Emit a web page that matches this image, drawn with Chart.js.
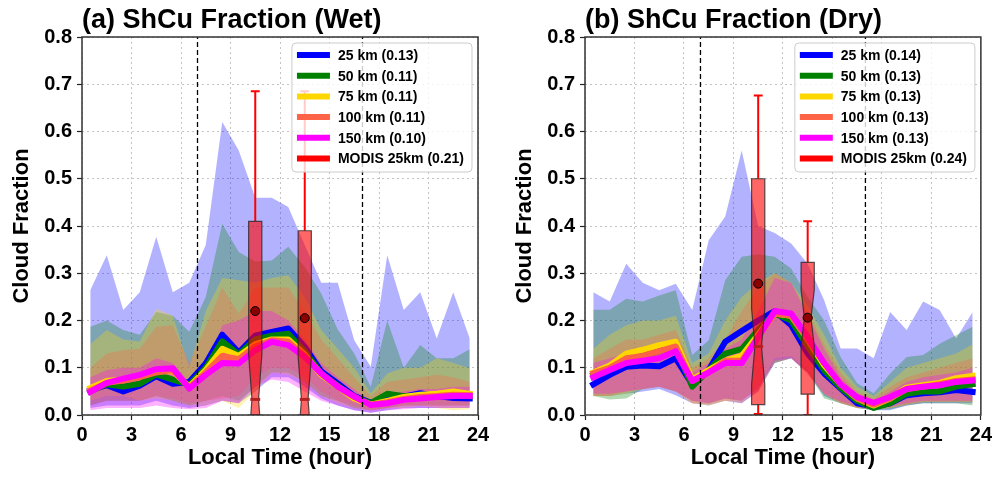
<!DOCTYPE html>
<html>
<head>
<meta charset="utf-8">
<script src="https://cdn.jsdelivr.net/npm/chart.js@4.4.1/dist/chart.umd.min.js"></script>
<style>
body { margin: 0; background: #fff; width: 995px; height: 477px; overflow: hidden; position: relative; }
#wrapWet { position: absolute; left: 0; top: 0; width: 495px; height: 477px; }
#wrapDry { position: absolute; left: 503px; top: 0; width: 492px; height: 477px; }
</style>
</head>
<body>
<div id="wrapWet"><canvas id="wetChart" width="495" height="477"></canvas></div>
<div id="wrapDry"><canvas id="dryChart" width="492" height="477"></canvas></div>
<script>
// local time of each hourly value
const hours = [0.5, 1.5, 2.5, 3.5, 4.5, 5.5, 6.5, 7.5, 8.5, 9.5, 10.5, 11.5,
               12.5, 13.5, 14.5, 15.5, 16.5, 17.5, 18.5, 19.5, 20.5, 21.5, 22.5, 23.5];
const resLabels = ['25 km', '50 km', '75 km', '100 km', '150 km'];
const lineColors = ['blue', 'green', 'gold', 'tomato', 'magenta'];
const bandColors = ['rgba(0,0,255,0.3)', 'rgba(0,128,0,0.3)', 'rgba(255,215,0,0.3)',
                    'rgba(255,99,71,0.3)', 'rgba(255,0,255,0.3)'];
const xTicks = [0, 3, 6, 9, 12, 15, 18, 21, 24];
const vLines = [7, 17];

// (a) wet season
const wetScores = ['0.13', '0.11', '0.11', '0.11', '0.10'];
const wetModisScore = '0.21';
const wetMean25  = [0.053,0.063,0.050,0.062,0.082,0.066,0.070,0.109,0.170,0.132,0.168,0.176,0.183,0.144,0.092,0.067,0.040,0.026,0.035,0.039,0.046,0.040,0.036,0.035];
const wetMean50  = [0.050,0.065,0.060,0.066,0.086,0.075,0.064,0.100,0.156,0.128,0.160,0.168,0.172,0.135,0.088,0.062,0.037,0.025,0.045,0.040,0.040,0.042,0.045,0.040];
const wetMean75  = [0.057,0.072,0.075,0.082,0.092,0.093,0.060,0.095,0.140,0.125,0.150,0.160,0.160,0.128,0.085,0.060,0.035,0.022,0.030,0.038,0.043,0.045,0.050,0.045];
const wetMean100 = [0.052,0.068,0.073,0.080,0.090,0.095,0.058,0.090,0.125,0.118,0.145,0.158,0.155,0.125,0.087,0.060,0.038,0.022,0.027,0.034,0.038,0.040,0.043,0.042];
const wetMean150 = [0.049,0.068,0.077,0.085,0.097,0.099,0.056,0.085,0.110,0.109,0.137,0.155,0.148,0.123,0.088,0.060,0.039,0.021,0.025,0.032,0.035,0.038,0.040,0.040];
const wetHi25  = [0.264,0.338,0.222,0.260,0.377,0.260,0.280,0.360,0.620,0.560,0.460,0.460,0.440,0.360,0.280,0.280,0.158,0.102,0.338,0.222,0.260,0.162,0.260,0.162];
const wetHi50  = [0.187,0.200,0.180,0.170,0.218,0.210,0.176,0.250,0.405,0.345,0.325,0.327,0.356,0.313,0.257,0.181,0.130,0.060,0.200,0.100,0.148,0.120,0.120,0.139];
const wetHi75  = [0.150,0.180,0.160,0.155,0.225,0.210,0.100,0.220,0.290,0.285,0.280,0.290,0.296,0.250,0.180,0.140,0.100,0.046,0.088,0.100,0.100,0.120,0.110,0.099];
const wetHi100 = [0.100,0.130,0.137,0.140,0.187,0.190,0.110,0.187,0.270,0.215,0.270,0.270,0.270,0.220,0.160,0.120,0.080,0.040,0.070,0.075,0.080,0.085,0.080,0.070];
const wetHi150 = [0.080,0.095,0.100,0.100,0.120,0.110,0.070,0.100,0.190,0.200,0.220,0.220,0.200,0.160,0.110,0.080,0.055,0.030,0.045,0.050,0.055,0.055,0.060,0.060];
const wetLo25  = [0.015,0.020,0.020,0.020,0.030,0.020,0.015,0.020,0.030,0.025,0.050,0.080,0.080,0.060,0.035,0.020,0.010,0.005,0.010,0.015,0.015,0.015,0.015,0.015];
const wetLo50  = [0.020,0.030,0.030,0.030,0.040,0.030,0.020,0.030,0.040,0.030,0.060,0.090,0.090,0.070,0.040,0.030,0.015,0.010,0.015,0.020,0.020,0.020,0.020,0.020];
const wetLo75  = [0.030,0.040,0.040,0.030,0.035,0.030,0.020,0.020,0.030,0.015,0.050,0.090,0.085,0.070,0.040,0.025,0.015,0.010,0.015,0.015,0.020,0.015,0.010,0.012];
const wetLo100 = [0.020,0.030,0.030,0.030,0.040,0.035,0.025,0.030,0.035,0.040,0.080,0.100,0.100,0.080,0.050,0.030,0.020,0.010,0.015,0.020,0.020,0.020,0.020,0.020];
const wetLo150 = [0.010,0.015,0.015,0.015,0.020,0.015,0.012,0.015,0.030,0.025,0.060,0.075,0.070,0.050,0.030,0.020,0.010,0.005,0.010,0.012,0.015,0.015,0.015,0.015];

// (b) dry season
const dryScores = ['0.14', '0.13', '0.13', '0.13', '0.13'];
const dryModisScore = '0.24';
const dryMean25  = [0.065,0.085,0.102,0.105,0.103,0.120,0.065,0.095,0.155,0.178,0.200,0.220,0.190,0.130,0.088,0.056,0.025,0.018,0.025,0.042,0.046,0.048,0.053,0.049];
const dryMean50  = [0.085,0.100,0.120,0.125,0.135,0.145,0.060,0.095,0.130,0.140,0.180,0.215,0.200,0.145,0.095,0.058,0.030,0.015,0.025,0.045,0.050,0.050,0.060,0.065];
const dryMean75  = [0.090,0.105,0.130,0.138,0.148,0.155,0.075,0.095,0.115,0.125,0.170,0.215,0.210,0.160,0.105,0.065,0.035,0.020,0.035,0.058,0.063,0.068,0.078,0.083];
const dryMean100 = [0.088,0.100,0.120,0.125,0.135,0.145,0.072,0.090,0.115,0.115,0.165,0.215,0.210,0.160,0.110,0.065,0.035,0.022,0.035,0.055,0.060,0.065,0.072,0.075];
const dryMean150 = [0.080,0.095,0.110,0.115,0.120,0.135,0.072,0.090,0.110,0.110,0.165,0.220,0.215,0.165,0.110,0.065,0.038,0.026,0.038,0.055,0.060,0.063,0.070,0.073];
const dryHi25  = [0.260,0.240,0.320,0.280,0.264,0.278,0.222,0.370,0.420,0.560,0.400,0.385,0.363,0.320,0.243,0.141,0.141,0.120,0.218,0.180,0.240,0.222,0.162,0.218];
const dryHi50  = [0.223,0.223,0.246,0.240,0.253,0.264,0.127,0.158,0.285,0.335,0.340,0.335,0.310,0.250,0.200,0.123,0.067,0.046,0.088,0.123,0.127,0.151,0.169,0.187];
const dryHi75  = [0.140,0.170,0.190,0.200,0.200,0.210,0.110,0.130,0.200,0.250,0.280,0.300,0.280,0.230,0.170,0.100,0.060,0.040,0.070,0.100,0.110,0.120,0.130,0.150];
const dryHi100 = [0.120,0.140,0.160,0.160,0.170,0.180,0.100,0.120,0.160,0.220,0.270,0.300,0.280,0.220,0.150,0.090,0.050,0.035,0.060,0.080,0.090,0.100,0.110,0.120];
const dryHi150 = [0.110,0.120,0.130,0.140,0.150,0.160,0.090,0.110,0.140,0.160,0.220,0.290,0.280,0.210,0.140,0.080,0.045,0.030,0.050,0.070,0.080,0.085,0.090,0.100];
const dryLo25  = [0.040,0.040,0.045,0.050,0.055,0.042,0.025,0.020,0.030,0.025,0.050,0.110,0.120,0.090,0.040,0.025,0.015,0.010,0.010,0.020,0.025,0.025,0.025,0.025];
const dryLo50  = [0.040,0.033,0.035,0.055,0.060,0.050,0.030,0.025,0.035,0.030,0.060,0.110,0.120,0.090,0.035,0.025,0.015,0.010,0.012,0.020,0.025,0.025,0.025,0.020];
const dryLo75  = [0.040,0.040,0.045,0.055,0.060,0.050,0.025,0.020,0.030,0.030,0.060,0.120,0.125,0.095,0.045,0.025,0.015,0.012,0.015,0.022,0.028,0.028,0.028,0.028];
const dryLo100 = [0.040,0.040,0.050,0.055,0.060,0.050,0.025,0.022,0.030,0.025,0.050,0.110,0.120,0.085,0.045,0.025,0.015,0.012,0.015,0.022,0.028,0.028,0.028,0.028];
const dryLo150 = [0.045,0.045,0.050,0.055,0.060,0.050,0.030,0.025,0.035,0.030,0.055,0.115,0.120,0.090,0.045,0.028,0.018,0.012,0.018,0.025,0.030,0.030,0.030,0.030];

// MODIS box plots (two overpass times)
const modisHours = [10.5, 13.5];
const wetBoxLow  = [0.000, 0.000];
const wetBoxQ1   = [0.000, 0.000];
const wetBoxMed  = [0.033, 0.033];
const wetBoxQ3   = [0.410, 0.390];
const wetBoxHigh = [0.685, 0.685];
const wetBoxMean = [0.220, 0.205];
const wetBoxNotch = [0.095, 0.090];
const dryBoxLow  = [0.002, 0.000];
const dryBoxQ1   = [0.022, 0.044];
const dryBoxMed  = [0.145, 0.205];
const dryBoxQ3   = [0.500, 0.323];
const dryBoxHigh = [0.676, 0.410];
const dryBoxMean = [0.278, 0.206];
const dryBoxNotch = [0.080, 0.060];

const FONT = '"Liberation Sans", Arial, Helvetica, sans-serif';

function pts(arr) {
  return hours.map((h, k) => ({ x: h, y: arr[k] }));
}

// draws boxes, frame, legend and panel title
function panelPlugin(p) {
  return {
    id: 'panel',
    afterDatasetsDraw(chart) {
      const { ctx, chartArea: a, scales: { x, y } } = chart;
      const b = p.box;
      ctx.save();
      ctx.beginPath();
      ctx.rect(a.left, a.top, a.right - a.left, a.bottom - a.top);
      ctx.clip();
      modisHours.forEach((t, i) => {
        const w = 0.8, xl = x.getPixelForValue(t - w / 2), xr = x.getPixelForValue(t + w / 2);
        const xc = x.getPixelForValue(t);
        const cl = x.getPixelForValue(t - w / 4), cr = x.getPixelForValue(t + w / 4);
        const capL = x.getPixelForValue(t - 0.27), capR = x.getPixelForValue(t + 0.27);
        // whiskers
        ctx.strokeStyle = 'red';
        ctx.lineWidth = 2;
        ctx.beginPath();
        ctx.moveTo(xc, y.getPixelForValue(b.q3[i])); ctx.lineTo(xc, y.getPixelForValue(b.high[i]));
        ctx.moveTo(capL, y.getPixelForValue(b.high[i])); ctx.lineTo(capR, y.getPixelForValue(b.high[i]));
        ctx.moveTo(xc, y.getPixelForValue(b.q1[i])); ctx.lineTo(xc, y.getPixelForValue(b.low[i]));
        ctx.moveTo(capL, y.getPixelForValue(b.low[i])); ctx.lineTo(capR, y.getPixelForValue(b.low[i]));
        ctx.stroke();
        // notched box
        const nLo = y.getPixelForValue(b.med[i] - b.notch[i]);
        const nHi = y.getPixelForValue(b.med[i] + b.notch[i]);
        const ym = y.getPixelForValue(b.med[i]);
        const y1 = y.getPixelForValue(b.q1[i]), y3 = y.getPixelForValue(b.q3[i]);
        ctx.beginPath();
        ctx.moveTo(xl, y1); ctx.lineTo(xl, nLo); ctx.lineTo(cl, ym); ctx.lineTo(xl, nHi); ctx.lineTo(xl, y3);
        ctx.lineTo(xr, y3); ctx.lineTo(xr, nHi); ctx.lineTo(cr, ym); ctx.lineTo(xr, nLo); ctx.lineTo(xr, y1);
        ctx.closePath();
        ctx.fillStyle = 'rgba(255,0,0,0.6)';
        ctx.fill();
        ctx.strokeStyle = 'rgba(40,40,40,0.8)';
        ctx.lineWidth = 1.2;
        ctx.stroke();
        // median
        ctx.strokeStyle = '#b22222';
        ctx.lineWidth = 3;
        ctx.beginPath();
        ctx.moveTo(x.getPixelForValue(t - 0.3), ym); ctx.lineTo(x.getPixelForValue(t + 0.3), ym);
        ctx.stroke();
        // mean
        ctx.beginPath();
        ctx.arc(xc, y.getPixelForValue(b.mean[i]), 4.5, 0, Math.PI * 2);
        ctx.fillStyle = '#8b0000';
        ctx.fill();
        ctx.strokeStyle = '#000';
        ctx.lineWidth = 1;
        ctx.stroke();
      });
      ctx.restore();
    },
    afterDraw(chart) {
      const { ctx, chartArea: a } = chart;
      ctx.save();
      // frame
      ctx.strokeStyle = '#333';
      ctx.lineWidth = 1.5;
      ctx.strokeRect(a.left, a.top, a.right - a.left, a.bottom - a.top);
      // legend
      const labels = resLabels.map((r, i) => r + ' (' + p.scores[i] + ')').concat(['MODIS 25km (' + p.modisScore + ')']);
      const colors = lineColors.concat(['red']);
      ctx.font = 'bold 14px ' + FONT;
      const tw = Math.max(...labels.map(l => ctx.measureText(l).width));
      const lw = 46 + tw + 8, lh = 129;
      const lx = a.right - 6 - lw, ly = a.top + 6;
      ctx.beginPath();
      ctx.roundRect(lx, ly, lw, lh, 4);
      ctx.fillStyle = 'rgba(255,255,255,0.8)';
      ctx.fill();
      ctx.strokeStyle = '#cccccc';
      ctx.lineWidth = 1;
      ctx.stroke();
      labels.forEach((l, i) => {
        const yy = ly + 12 + i * 20.7;
        ctx.strokeStyle = colors[i];
        ctx.lineWidth = 6;
        ctx.beginPath();
        ctx.moveTo(lx + 5, yy); ctx.lineTo(lx + 38, yy);
        ctx.stroke();
        ctx.fillStyle = '#000';
        ctx.textAlign = 'left';
        ctx.textBaseline = 'middle';
        ctx.fillText(l, lx + 46, yy + 1);
      });
      // title
      ctx.font = 'bold 27px ' + FONT;
      ctx.fillStyle = '#000';
      ctx.textAlign = 'left';
      ctx.textBaseline = 'alphabetic';
      ctx.fillText(p.title, a.left, 28);
      ctx.restore();
    }
  };
}

function makeChart(id, p) {
  const datasets = [];
  resLabels.forEach((lab, i) => {
    datasets.push({ label: lab + ' min', data: pts(p.lo[i]), borderWidth: 0, pointRadius: 0, fill: false, order: 100 - 2 * i });
    datasets.push({ label: lab + ' range', data: pts(p.hi[i]), borderWidth: 0, pointRadius: 0, fill: '-1',
                    backgroundColor: bandColors[i], order: 99 - 2 * i });
  });
  resLabels.forEach((lab, i) => {
    datasets.push({ label: lab, data: pts(p.mean[i]), borderColor: lineColors[i], borderWidth: 6, pointRadius: 0,
                    fill: false, borderCapStyle: 'square', borderJoinStyle: 'round', order: 50 - i });
  });
  vLines.forEach(v => {
    datasets.push({ label: 'LT ' + v, data: [{ x: v, y: 0 }, { x: v, y: 0.8 }], borderColor: '#000', borderWidth: 1.3,
                    borderDash: [5, 3], pointRadius: 0, fill: false, order: 1 });
  });
  const tickFont = { family: FONT, size: 20, weight: 'bold' };
  const titleFont = { family: FONT, size: 22, weight: 'bold' };
  return new Chart(document.getElementById(id), {
    type: 'line',
    data: { datasets },
    options: {
      responsive: false,
      animation: false,
      devicePixelRatio: 1,
      layout: { padding: { top: 37, right: p.rightPad, left: 0, bottom: 0 } },
      plugins: { legend: { display: false }, tooltip: { enabled: false }, title: { display: false } },
      scales: {
        x: {
          type: 'linear', min: 0, max: 24,
          afterBuildTicks: s => { s.ticks = xTicks.map(v => ({ value: v })); },
          ticks: { color: '#000', font: tickFont, padding: 3, maxRotation: 0, autoSkip: false },
          grid: { color: '#c4c4c4', lineWidth: 1, tickColor: '#222', tickLength: 5, tickWidth: 1.2, tickBorderDash: [] },
          border: { display: false, dash: [2, 3] },
          title: { display: true, text: 'Local Time (hour)', color: '#000', font: titleFont, padding: { top: 0, bottom: 6 } },
          afterFit: s => { s.height = 62; }
        },
        y: {
          min: 0, max: 0.8,
          ticks: { stepSize: 0.1, color: '#000', font: tickFont, padding: 5, callback: v => v.toFixed(1) },
          grid: { color: '#c4c4c4', lineWidth: 1, tickColor: '#222', tickLength: 5, tickWidth: 1.2, tickBorderDash: [] },
          border: { display: false, dash: [2, 3] },
          title: { display: true, text: 'Cloud Fraction', color: '#000', font: titleFont, padding: { top: 9, bottom: 0 } },
          afterFit: s => { s.width = 82; }
        }
      }
    },
    plugins: [panelPlugin(p)]
  });
}

makeChart('wetChart', {
  title: '(a) ShCu Fraction (Wet)',
  scores: wetScores, modisScore: wetModisScore, rightPad: 17,
  mean: [wetMean25, wetMean50, wetMean75, wetMean100, wetMean150],
  hi: [wetHi25, wetHi50, wetHi75, wetHi100, wetHi150],
  lo: [wetLo25, wetLo50, wetLo75, wetLo100, wetLo150],
  box: { low: wetBoxLow, q1: wetBoxQ1, med: wetBoxMed, q3: wetBoxQ3, high: wetBoxHigh, mean: wetBoxMean, notch: wetBoxNotch }
});

makeChart('dryChart', {
  title: '(b) ShCu Fraction (Dry)',
  scores: dryScores, modisScore: dryModisScore, rightPad: 10,
  mean: [dryMean25, dryMean50, dryMean75, dryMean100, dryMean150],
  hi: [dryHi25, dryHi50, dryHi75, dryHi100, dryHi150],
  lo: [dryLo25, dryLo50, dryLo75, dryLo100, dryLo150],
  box: { low: dryBoxLow, q1: dryBoxQ1, med: dryBoxMed, q3: dryBoxQ3, high: dryBoxHigh, mean: dryBoxMean, notch: dryBoxNotch }
});
</script>
</body>
</html>
